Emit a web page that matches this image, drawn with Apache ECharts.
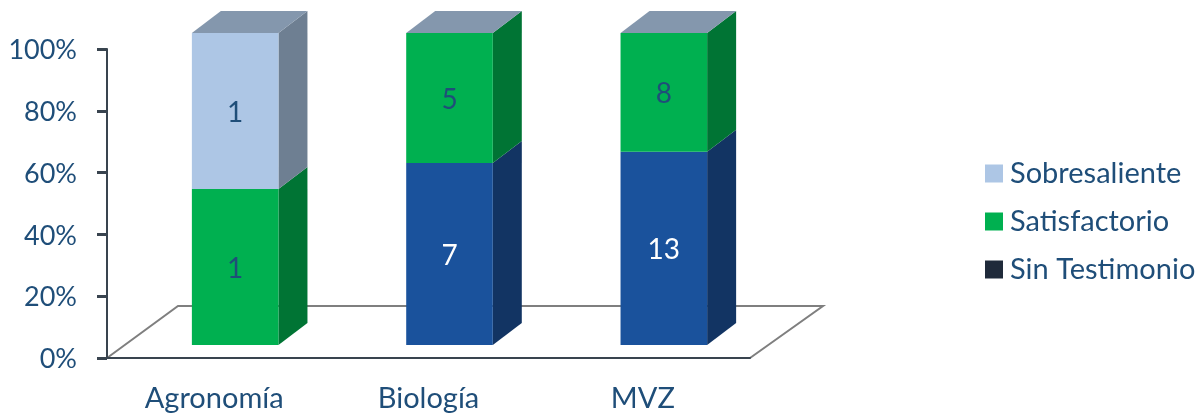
<!DOCTYPE html>
<html><head><meta charset="utf-8">
<style>html,body{margin:0;padding:0;background:#fff}#c{width:1204px;height:415px}</style>
<script src="https://cdn.jsdelivr.net/npm/echarts@6/dist/echarts.min.js"></script>
</head><body><div id="c"></div>
<script>
const categories = ['Agronomía', 'Biología', 'MVZ'];
const sinTestimonio = [0, 7, 13];
const satisfactorio = [1, 5, 8];
const sobresaliente = [1, 0, 0];
const yTicks = { min: 0, max: 100, interval: 20 };

const FONT = 'Lato';
const TEXT = '#1f4e79';
const AXIS = '#39444f';
const DEPTH_X = 29, DEPTH_Y = 22;
const FLOOR_X = 72, FLOOR_Y = 52;
const TOP_FACE = '#8497ad';

const totals = categories.map((_, i) => sinTestimonio[i] + satisfactorio[i] + sobresaliente[i]);

function segments(values, below) {
  return values.map((v, i) => {
    const start = below.reduce((s, b) => s + b[i], 0) / totals[i];
    return [i, start, start + v / totals[i], v];
  });
}

function barRender(front, side, labelColor) {
  return function (params, api) {
    const v = api.value(3);
    if (!v) return { type: 'group', children: [] };
    const idx = api.value(0);
    const start = api.value(1), end = api.value(2);
    const w = api.size([1, 0])[0] * 0.404;
    const c0 = api.coord([idx, start]), c1 = api.coord([idx, end]);
    const x0 = c0[0] - w / 2, x1 = c0[0] + w / 2, yb = c0[1], yt = c1[1];
    const children = [
      { type: 'polygon', shape: { points: [[x1, yb], [x1 + DEPTH_X, yb - DEPTH_Y], [x1 + DEPTH_X, yt - DEPTH_Y], [x1, yt]] }, style: { fill: side } },
      { type: 'rect', shape: { x: x0, y: yt, width: w, height: yb - yt }, style: { fill: front } }
    ];
    if (end > 0.999) {
      children.push({ type: 'polygon', shape: { points: [[x0, yt], [x0 + DEPTH_X, yt - DEPTH_Y], [x1 + DEPTH_X, yt - DEPTH_Y], [x1, yt]] }, style: { fill: TOP_FACE } });
    }
    children.push({ type: 'text', style: { x: c0[0], y: (yb + yt) / 2 + 2, text: String(v), fill: labelColor, font: '28px ' + FONT, align: 'center', verticalAlign: 'middle' } });
    return { type: 'group', children };
  };
}

function floorRender(params) {
  const r = params.coordSys;
  const l = r.x, rr = r.x + r.width, b = r.y + r.height;
  return {
    type: 'polyline',
    shape: { points: [[l, b], [l + FLOOR_X - 1, b - FLOOR_Y], [rr + FLOOR_X + 1, b - FLOOR_Y], [rr, b]] },
    style: { fill: null, stroke: '#7f7f7f', lineWidth: 2 }
  };
}

function barSeries(name, data, legendColor, front, side, labelColor) {
  return {
    name, type: 'custom', xAxisIndex: 1, yAxisIndex: 1, z: 5, silent: true,
    itemStyle: { color: legendColor },
    encode: { x: 0, y: [1, 2] },
    renderItem: barRender(front, side, labelColor), data
  };
}

const chart = echarts.init(document.getElementById('c'), null, { renderer: 'canvas' });
chart.setOption({
  animation: false,
  backgroundColor: '#fff',
  textStyle: { fontFamily: FONT },
  grid: [
    { left: 107, top: 49, width: 643, height: 309 },
    { left: 128, top: 33, width: 643, height: 312 }
  ],
  xAxis: [
    {
      type: 'category', data: categories, gridIndex: 0, z: 3,
      axisLine: { lineStyle: { color: AXIS, width: 2 } },
      axisTick: { length: 10, lineStyle: { color: AXIS, width: 3 } },
      axisLabel: { color: TEXT, fontSize: 29, fontFamily: FONT, margin: 26, lineHeight: 30 }
    },
    { type: 'category', data: categories, gridIndex: 1, show: false }
  ],
  yAxis: [
    {
      type: 'value', gridIndex: 0, min: yTicks.min, max: yTicks.max, interval: yTicks.interval, z: 3,
      splitLine: { show: false },
      axisLine: { show: true, lineStyle: { color: AXIS, width: 2 } },
      axisTick: { show: true, length: 10, lineStyle: { color: AXIS, width: 3 } },
      axisLabel: { color: TEXT, fontSize: 27, fontFamily: FONT, margin: 30, verticalAlign: 'top', padding: [-12, 0, 0, 0], formatter: '{value}%' }
    },
    { type: 'value', gridIndex: 1, min: 0, max: 1, show: false }
  ],
  legend: {
    orient: 'vertical', left: 980, top: 154,
    itemWidth: 18, itemHeight: 18, itemGap: 19, icon: 'rect',
    data: ['Sobresaliente', 'Satisfactorio', 'Sin Testimonio'],
    textStyle: { color: TEXT, fontSize: 29, fontFamily: FONT, padding: [0, 0, 0, 2] },
    selectedMode: false
  },
  series: [
    { type: 'custom', name: 'floor', xAxisIndex: 0, yAxisIndex: 0, z: 1, silent: true, renderItem: floorRender, data: [[0, 0]], encode: { x: 0, y: 1 } },
    barSeries('Sin Testimonio', segments(sinTestimonio, []), '#1f2a3a', '#1a529c', '#123463', '#ffffff'),
    barSeries('Satisfactorio', segments(satisfactorio, [sinTestimonio]), '#00b050', '#00b050', '#007434', TEXT),
    barSeries('Sobresaliente', segments(sobresaliente, [sinTestimonio, satisfactorio]), '#adc6e5', '#adc6e5', '#6e7f92', TEXT)
  ]
});
</script></body></html>
